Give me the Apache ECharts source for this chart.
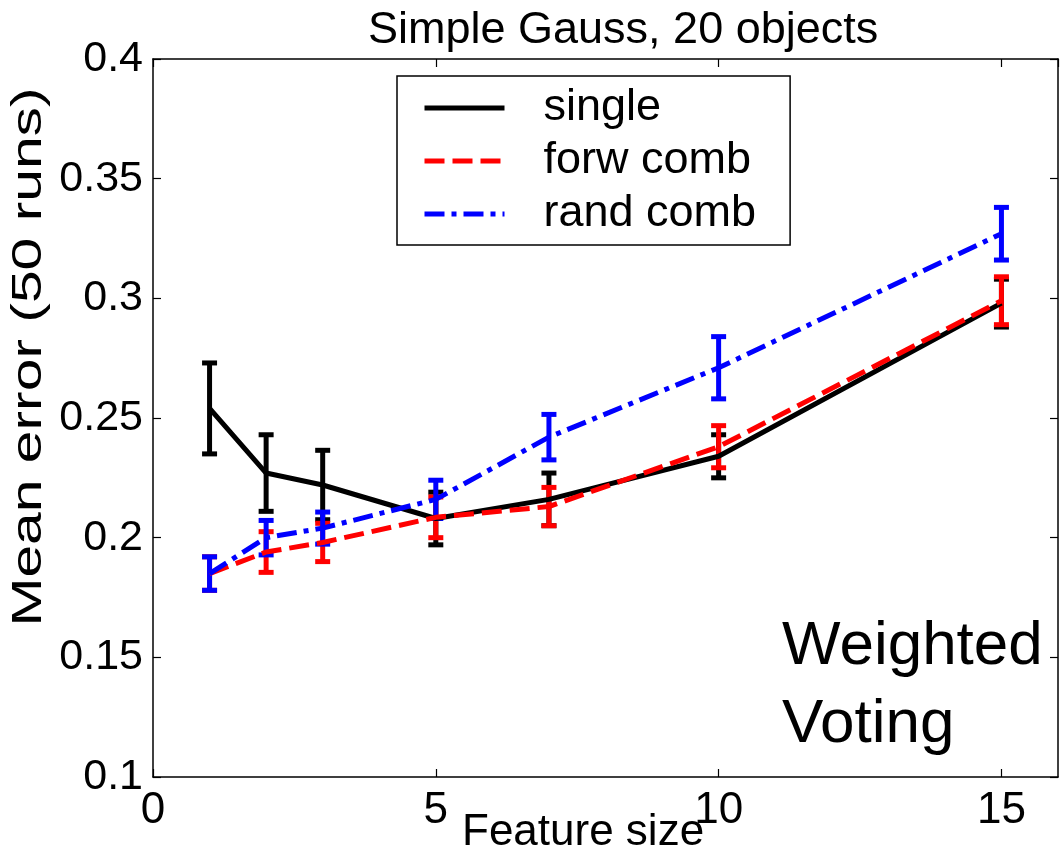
<!DOCTYPE html>
<html>
<head>
<meta charset="utf-8">
<script src="https://cdn.jsdelivr.net/npm/echarts@6/dist/echarts.min.js"></script>
<style>
  html, body { margin: 0; padding: 0; background: #fff; }
  #chart { width: 1062px; height: 857px; }
</style>
</head>
<body>
<div id="chart"></div>
<script>
// feature sizes on the x axis
var featureSize = [1, 2, 3, 5, 7, 10, 15];

// mean error and half error bar for each method
var singleMean = [0.254, 0.227, 0.222, 0.208, 0.216, 0.234, 0.298];
var singleErr  = [0.019, 0.016, 0.0145, 0.011, 0.011, 0.009, 0.010];
var forwMean   = [0.185, 0.194, 0.198, 0.2085, 0.213, 0.238, 0.299];
var forwErr    = [0.007, 0.0085, 0.008, 0.0085, 0.008, 0.0088, 0.010];
var randMean   = [0.185, 0.200, 0.204, 0.216, 0.242, 0.271, 0.327];
var randErr    = [0.007, 0.0072, 0.0067, 0.008, 0.0095, 0.013, 0.011];

var FONT = '"Liberation Sans", Arial, sans-serif';

function linePoints(mean) {
  var out = [];
  for (var i = 0; i < featureSize.length; i++) out.push([featureSize[i], mean[i]]);
  return out;
}
function errPoints(mean, err) {
  var out = [];
  for (var i = 0; i < featureSize.length; i++)
    out.push([featureSize[i], mean[i] - err[i], mean[i] + err[i]]);
  return out;
}

// draws an I shaped error bar
function errRender(color) {
  return function (params, api) {
    var hi = api.coord([api.value(0), api.value(2)]);
    var lo = api.coord([api.value(0), api.value(1)]);
    var w = 7.5;
    var st = { stroke: color, lineWidth: 5 };
    return {
      type: 'group',
      children: [
        { type: 'line', shape: { x1: hi[0], y1: hi[1], x2: lo[0], y2: lo[1] }, style: st },
        { type: 'line', shape: { x1: hi[0] - w, y1: hi[1], x2: hi[0] + w, y2: hi[1] }, style: st },
        { type: 'line', shape: { x1: lo[0] - w, y1: lo[1], x2: lo[0] + w, y2: lo[1] }, style: st }
      ]
    };
  };
}

var myChart = echarts.init(document.getElementById('chart'));

var axisLine = { show: true, onZero: false, lineStyle: { color: '#000', width: 1.5 } };
var tickInside = { show: true, inside: true, length: 8, lineStyle: { color: '#000', width: 1.2 } };

var option = {
  backgroundColor: '#fff',
  animation: false,
  title: {
    text: 'Simple Gauss, 20 objects',
    left: 363,
    top: 3,
    textStyle: { fontFamily: FONT, fontSize: 45, fontWeight: 'normal', color: '#000' }
  },
  grid: { left: 153, right: 4, top: 59, bottom: 80 },
  legend: {
    orient: 'vertical',
    left: 397,
    top: 76,
    padding: [8, 34, 7, 25],
    itemGap: 5,
    itemWidth: 80,
    itemHeight: 14,
    borderColor: '#000',
    borderWidth: 1.5,
    backgroundColor: '#fff',
    itemStyle: { opacity: 0 },
    lineStyle: { width: 5 },
    data: ['single', 'forw comb', 'rand comb'],
    textStyle: {
      fontFamily: FONT, fontSize: 45, color: '#000', lineHeight: 48,
      padding: [0, 0, 0, 34]
    }
  },
  xAxis: [{
    type: 'value', min: 0, max: 16, interval: 5,
    axisLine: axisLine, axisTick: tickInside, splitLine: { show: false },
    axisLabel: {
      margin: 12, showMaxLabel: false,
      fontFamily: FONT, fontSize: 44, color: '#000'
    }
  }, {
    type: 'value', min: 0, max: 16, interval: 5, position: 'top',
    axisLine: axisLine, axisTick: tickInside, splitLine: { show: false },
    axisLabel: { show: false }
  }],
  yAxis: [{
    type: 'value', min: 0.1, max: 0.4, interval: 0.05,
    axisLine: axisLine, axisTick: tickInside, splitLine: { show: false },
    axisLabel: { margin: 10, fontFamily: FONT, fontSize: 43, color: '#000' }
  }, {
    type: 'value', min: 0.1, max: 0.4, interval: 0.05, position: 'right',
    axisLine: axisLine, axisTick: tickInside, splitLine: { show: false },
    axisLabel: { show: false }
  }],
  graphic: [
    {
      type: 'text', left: 462, top: 811,
      style: { text: 'Feature size', font: '44px ' + FONT, fill: '#000' }
    },
    {
      type: 'text', x: 8, y: 357, rotation: Math.PI / 2, scaleX: 1.4,
      style: {
        text: 'Mean error (50 runs)', font: '42px ' + FONT, fill: '#000',
        align: 'center', verticalAlign: 'top'
      }
    },
    {
      type: 'text', left: 782, top: 608,
      style: {
        text: 'Weighted\nVoting', font: '62px ' + FONT, fill: '#000',
        lineHeight: 78
      }
    }
  ],
  series: [
    {
      name: 'single', type: 'line', data: linePoints(singleMean),
      symbol: 'none', lineStyle: { color: '#000', width: 5, type: 'solid' },
      itemStyle: { color: '#000' }
    },
    {
      name: 'single', type: 'custom', data: errPoints(singleMean, singleErr),
      renderItem: errRender('#000')
    },
    {
      name: 'forw comb', type: 'line', data: linePoints(forwMean),
      symbol: 'none', lineStyle: { color: '#ff0000', width: 5, type: [20, 8] },
      itemStyle: { color: '#ff0000' }
    },
    {
      name: 'forw comb', type: 'custom', data: errPoints(forwMean, forwErr),
      renderItem: errRender('#ff0000')
    },
    {
      name: 'rand comb', type: 'line', data: linePoints(randMean),
      symbol: 'none', lineStyle: { color: '#0000ff', width: 5, type: [20, 7, 5, 7] },
      itemStyle: { color: '#0000ff' }
    },
    {
      name: 'rand comb', type: 'custom', data: errPoints(randMean, randErr),
      renderItem: errRender('#0000ff')
    }
  ]
};

myChart.setOption(option);
</script>
</body>
</html>
